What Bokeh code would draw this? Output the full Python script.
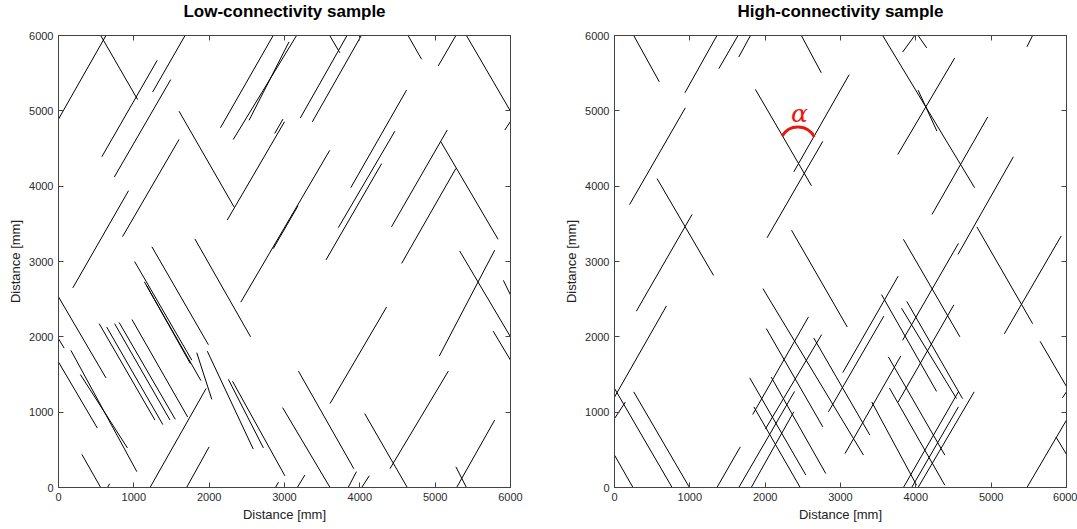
from bokeh.plotting import figure
from bokeh.models import Range1d, LinearAxis, FixedTicker, ColumnDataSource
from bokeh.layouts import row
from bokeh.embed import file_html
from bokeh.resources import INLINE
from bokeh.core.properties import value

tick_values = [0, 1000, 2000, 3000, 4000, 5000, 6000]
titles = ["Low-connectivity sample", "High-connectivity sample"]
axis_title = "Distance [mm]"

# ---- Low-connectivity sample: fracture traces (mm) ----
low_x0 = [0, 560, 575, 1250, 740, 850, 190, 1600, 2240, 2870, 2150, 2320, 2530, 3210, 3370, 3600,
          2420, 2850, 1240, 1810, 1010, 1140, 1170, 540, 640, 745, 805, 975, 0, 0, 0, 165, 290,
          310, 650, 1215, 1700, 1835, 1975, 2255, 2310, 2975, 2880, 3880, 3715, 3550, 4555, 4420,
          5075, 4640, 5040, 5415, 5925, 5325, 5055, 5905, 5770, 3605, 3185, 4065, 4400, 3170,
          3845, 4025, 5275, 5285]
low_y0 = [4890, 6000, 4390, 5250, 4120, 3330, 2650, 4995, 3550, 4700, 4775, 4620, 4875, 4905, 4855, 6000,
          2460, 3170, 3195, 3300, 3000, 2730, 2680, 2175, 2130, 2175, 2190, 2230, 2530, 1975, 1665, 1820, 1500,
          440, 0, 0, 0, 1790, 1810, 1435, 1410, 1060, 0, 3980, 3450, 3020, 2975, 3460,
          4590, 6000, 5595, 6000, 4745, 3140, 1745, 2750, 2075, 1115, 1545, 980, 250, 0,
          0, 0, 275, 0]
low_x1 = [630, 1050, 1310, 1680, 1490, 1600, 930, 2330, 3000, 2980, 2850, 3160, 3060, 3830, 4020, 3735,
          3600, 3180, 1990, 2550, 1770, 1890, 1750, 1280, 1385, 1480, 1550, 1715, 630, 75, 515, 1040, 915,
          560, 680, 1960, 2000, 2035, 2585, 2720, 3005, 3605, 2920, 4620, 4465, 4290, 5275, 5160,
          5835, 4820, 5275, 6000, 6000, 6000, 5790, 6000, 6000, 4355, 3920, 4630, 5175, 3270,
          3955, 4125, 5415, 5790]
low_y1 = [6000, 5150, 5670, 6000, 5415, 4620, 3940, 3725, 4855, 4890, 6000, 6000, 5915, 6000, 6000, 5770,
          4475, 3740, 1895, 2000, 1690, 1420, 1645, 895, 835, 895, 905, 935, 1455, 1850, 790, 210, 525,
          0, 50, 1315, 540, 1170, 510, 525, 155, 0, 70, 5275, 4730, 4300, 4235, 4745,
          3295, 5685, 6000, 4995, 4860, 2000, 3150, 2555, 1690, 2395, 250, 0, 1545, 165,
          210, 155, 0, 895]

# ---- High-connectivity sample: fracture traces (mm) ----
high_x0 = [255, 935, 1385, 1650, 2480, 200, 565, 290, 1870, 2380, 2025, 2350, 3560, 4030, 3760, 4215,
           4560, 3825, 4030, 5475, 3835, 3825, 4810, 5175, 5650, 5945, 5475, 5860, 3030, 2840, 3545,
           3810, 3880, 3765, 3635, 3060, 3650, 3415, 3835, 3945, 4030, 0, 0, 0, 0, 255, 1360, 1970,
           2015, 1795, 2080, 2645, 1850, 1835, 2005, 1650, 1815]
high_y0 = [6000, 5240, 5560, 5715, 6000, 3755, 4100, 2340, 5285, 4190, 3315, 3415, 6000, 5275, 4420, 3625,
           3095, 5780, 6000, 5850, 3295, 1955, 3460, 2040, 1940, 1190, 0, 670, 1525, 1005, 2560,
           2380, 2470, 1135, 1735, 450, 1320, 1135, 0, 0, 0, 1200, 915, 1315, 430, 1270, 0, 2640,
           2110, 1455, 1465, 1985, 1070, 970, 780, 0, 0]
high_x1 = [595, 1360, 1640, 1805, 2745, 940, 1315, 1030, 2615, 3115, 2765, 3090, 4780, 4280, 4515, 4955,
           5295, 3985, 4145, 5550, 4585, 4565, 5550, 5930, 6000, 6000, 6000, 6000, 3765, 3575, 4275,
           4540, 4620, 4505, 4385, 3800, 4385, 4010, 4565, 4565, 4775, 690, 145, 765, 245, 995, 1670, 3305,
           2765, 2540, 2805, 3390, 2465, 2575, 2750, 2390, 2380]
high_y1 = [5385, 6000, 6000, 6000, 5505, 5040, 2815, 3625, 4005, 5480, 4595, 2130, 3980, 4730, 5700, 4920,
           4390, 6000, 5835, 6000, 2000, 3240, 2175, 3340, 1340, 1270, 895, 440, 2805, 2275, 1275,
           1180, 1180, 2425, 430, 1745, 30, 30, 1270, 1070, 1270, 2410, 1135, 0, 0, 0, 540, 430,
           805, 165, 185, 695, 0, 2265, 2030, 1275, 1005]

# dip-angle annotation (high-connectivity panel)
alpha_arc_x, alpha_arc_y, alpha_arc_r = 2436, 4544, 243
alpha_text_x, alpha_text_y = 2454, 4964

FONT = "Liberation Sans"
SHIFT = 20  # page is lifted by this many pixels so the title sits near the top edge


def make_panel(title, x0, y0, x1, y1, width, left, right):
    p = figure(width=width, height=529 + SHIFT, x_range=Range1d(0, 6000), y_range=Range1d(0, 6000),
               output_backend="svg", toolbar_location=None, title=title,
               min_border_left=left, min_border_right=right, min_border_top=35 + SHIFT,
               min_border_bottom=42)
    p.title.align = "center"
    p.title.text_font = FONT
    p.title.text_font_size = "17px"
    p.title.text_font_style = "bold"
    p.title.text_color = "black"
    p.title.standoff = 30
    p.grid.visible = False
    p.outline_line_color = "#444444"
    p.outline_line_width = 1
    p.background_fill_color = "white"
    p.border_fill_color = "white"

    for ax in (p.xaxis[0], p.yaxis[0]):
        ax.ticker = FixedTicker(ticks=tick_values)
        ax.major_tick_in = 5
        ax.major_tick_out = 0
        ax.minor_tick_line_color = None
        ax.axis_line_color = "#444444"
        ax.major_tick_line_color = "#444444"
        ax.major_label_text_font = FONT
        ax.major_label_text_font_size = "11px"
        ax.major_label_text_color = "#2b2b2b"
        ax.major_label_standoff = 5
        ax.axis_label = axis_title
        ax.axis_label_text_font = FONT
        ax.axis_label_text_font_size = "13px"
        ax.axis_label_text_font_style = "normal"
        ax.axis_label_text_color = "#222222"
        ax.axis_label_standoff = 3
    p.yaxis[0].major_label_orientation = "horizontal"

    for side in ("above", "right"):
        ax = LinearAxis(ticker=FixedTicker(ticks=tick_values))
        ax.major_tick_in = 5
        ax.major_tick_out = 0
        ax.minor_tick_line_color = None
        ax.axis_line_color = "#444444"
        ax.major_tick_line_color = "#444444"
        ax.major_label_text_font_size = "0px"
        ax.major_label_text_color = None
        ax.major_label_text_alpha = 0
        ax.major_label_standoff = 0
        p.add_layout(ax, side)

    src = ColumnDataSource(dict(x0=x0, y0=y0, x1=x1, y1=y1))
    p.segment(x0="x0", y0="y0", x1="x1", y1="y1", source=src,
              line_color="black", line_width=1)
    return p


p1 = make_panel(titles[0], low_x0, low_y0, low_x1, low_y1, 538, 58, 28)
p2 = make_panel(titles[1], high_x0, high_y0, high_x1, high_y1, 539, 76, 11)

p2.arc(x=[alpha_arc_x], y=[alpha_arc_y], radius=alpha_arc_r,
       start_angle=0.47, end_angle=2.62, line_color="#e8170f", line_width=3)
p2.text(x=[alpha_text_x], y=[alpha_text_y], text=["α"], text_color="#e8170f",
        text_font=value("DejaVu Serif"), text_font_style="italic",
        text_font_size="25px", text_align="center", text_baseline="middle")

layout = row(p1, p2, spacing=0, margin=(-SHIFT, 0, 0, 0))
open("out.html", "w").write(file_html(layout, INLINE))
